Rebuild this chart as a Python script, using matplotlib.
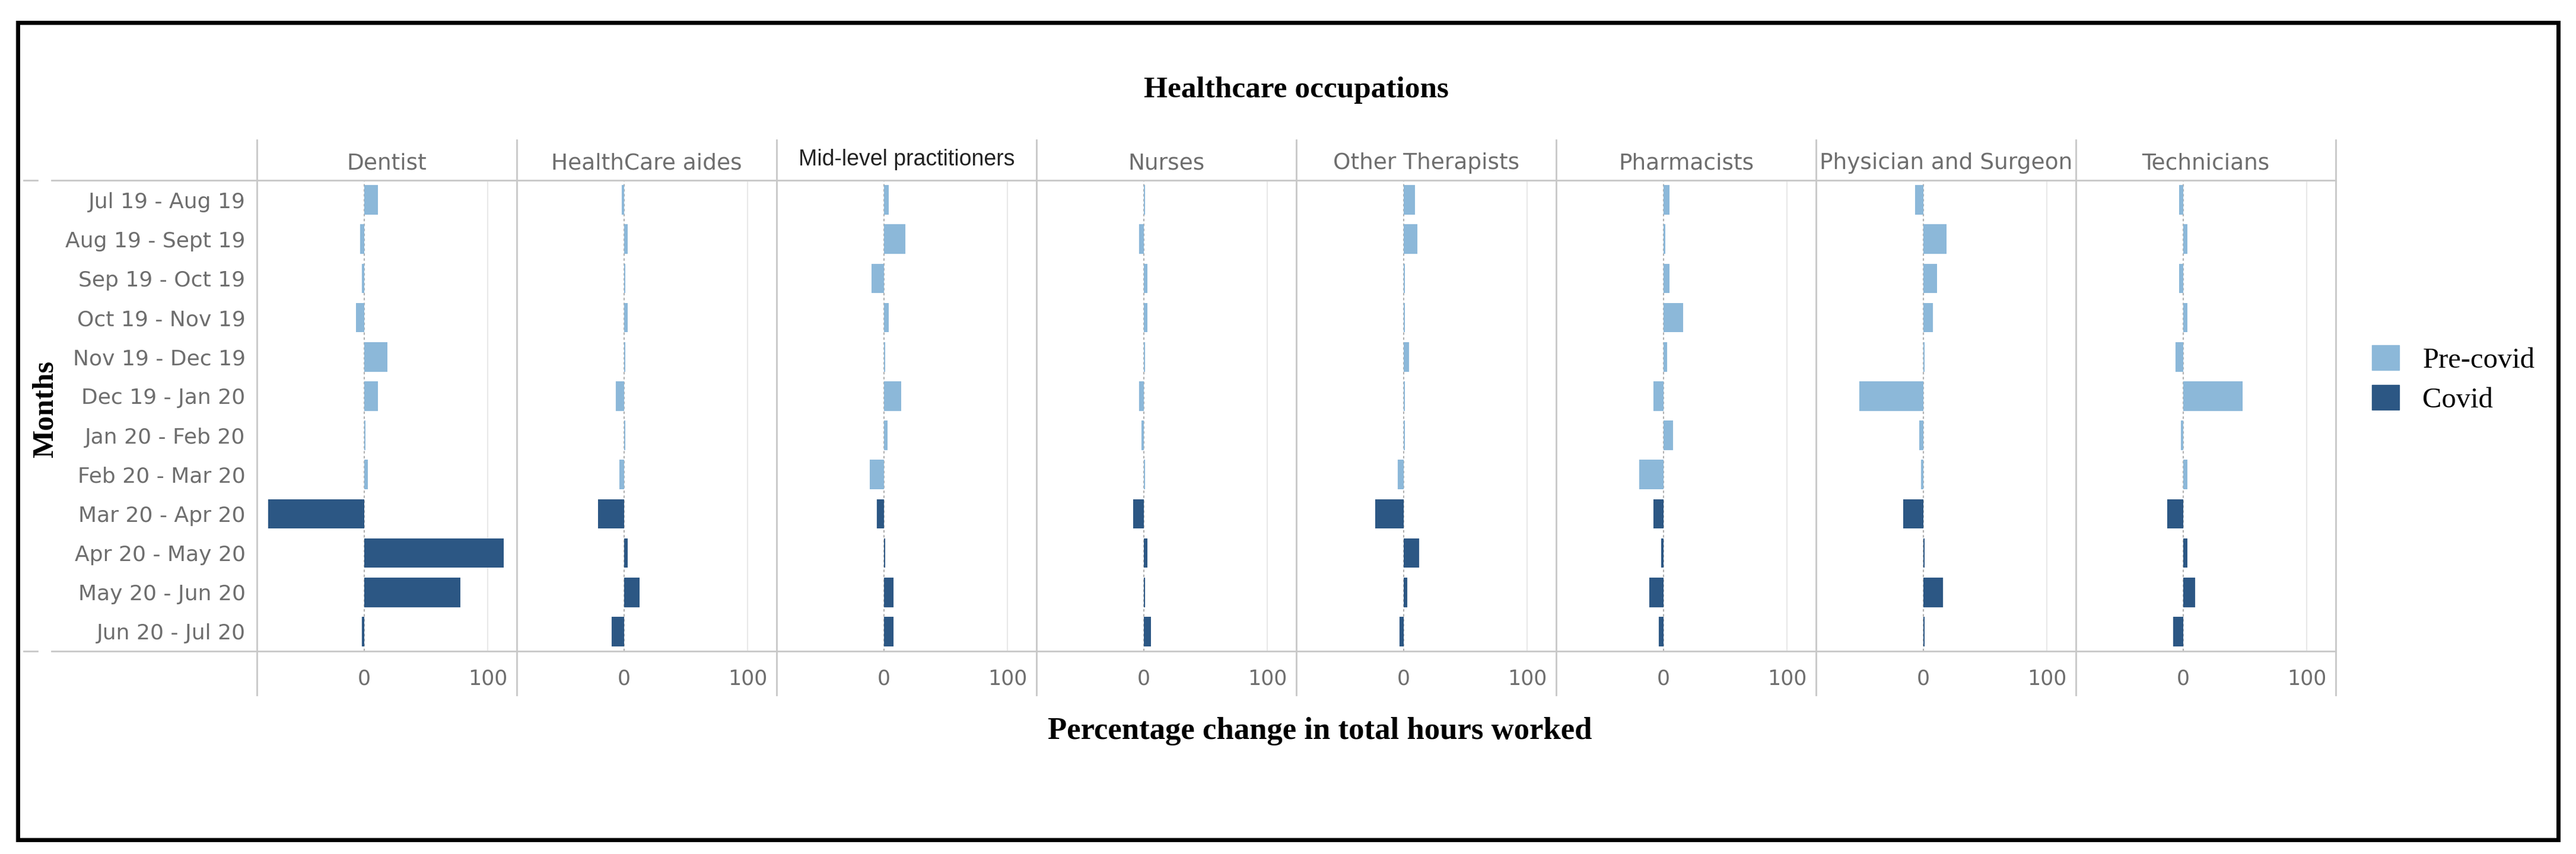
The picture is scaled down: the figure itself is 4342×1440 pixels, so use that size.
import matplotlib
matplotlib.use('Agg')
import matplotlib.pyplot as plt
from matplotlib.patches import Rectangle, Patch
from matplotlib.lines import Line2D

# ---------------- data
months = ['Jul 19 - Aug 19', 'Aug 19 - Sept 19', 'Sep 19 - Oct 19', 'Oct 19 - Nov 19',
          'Nov 19 - Dec 19', 'Dec 19 - Jan 20', 'Jan 20 - Feb 20', 'Feb 20 - Mar 20',
          'Mar 20 - Apr 20', 'Apr 20 - May 20', 'May 20 - Jun 20', 'Jun 20 - Jul 20']
periods = ['Pre-covid', 'Pre-covid', 'Pre-covid', 'Pre-covid', 'Pre-covid', 'Pre-covid',
           'Pre-covid', 'Pre-covid', 'Covid', 'Covid', 'Covid', 'Covid']
occupations = ['Dentist', 'HealthCare aides', 'Mid-level practitioners', 'Nurses',
               'Other Therapists', 'Pharmacists', 'Physician and Surgeon', 'Technicians']

dentist = [11, -3.3, -1.7, -6.6, 19, 11, 1, 2.8, -78, 113, 78, -1.7]
healthcare_aides = [-2, 2.8, 1, 2.8, 1, -6.7, 1, -3.6, -21, 2.8, 12.5, -10]
mid_level = [4, 17.5, -10, 4, 1, 14, 2.8, -11.7, -5.6, 1, 7.5, 7.5]
nurses = [0.8, -3.6, 2.8, 2.8, 0.8, -3.6, -2, 0.8, -8.6, 2.8, 1, 6]
other_therapists = [9, 11, 1, 1, 4.5, 1, 1, -5, -23, 12.5, 3, -3.3]
pharmacists = [4.7, 1.4, 4.7, 16, 2.8, -8, 7.5, -19.5, -8, -2, -11.4, -3.6]
physician = [-6.8, 18.8, 10.9, 7.6, 1.2, -51.8, -3.2, -1.8, -16.2, 1.2, 15.9, 1.2]
technicians = [-3.2, 3.2, -3.2, 3.2, -6.4, 48, -1.8, 3.2, -12.9, 3.2, 9.6, -8.2]

series = [dentist, healthcare_aides, mid_level, nurses, other_therapists,
          pharmacists, physician, technicians]

LIGHT = '#8cb8d9'
DARK = '#2c5784'
GRAYTXT = '#6e6e6e'
LINE = '#c8c8c8'
SERIF = 'Liberation Serif'

W, H = 4342, 1440
fig = plt.figure(figsize=(W / 100, H / 100), dpi=100)


def fx(px):
    return px / W


def fy(py):
    return 1 - py / H


p_left, p_w = 433, 438
p_top, p_bot = 304, 1098

for i, occ in enumerate(occupations):
    ax = fig.add_axes([fx(p_left + i * p_w), fy(p_bot), fx(p_w), (p_bot - p_top) / H])
    ax.set_facecolor('none')
    cols = [LIGHT if p == 'Pre-covid' else DARK for p in periods]
    ax.barh(range(len(months)), series[i], height=0.75, color=cols, zorder=2)
    ax.axvline(0, color='#b0b0b0', ls=(0, (2, 2)), lw=1.5, zorder=1)
    ax.axvline(100, color='#e8e8e8', lw=1.5, zorder=0)
    ax.set_xlim(-87, 123.6)
    ax.set_ylim(len(months) - 0.5, -0.5)
    for s in ax.spines.values():
        s.set_visible(False)
    ax.set_xticks([0, 100])
    ax.set_xticklabels(['0', '100'])
    ax.tick_params(axis='x', length=0, pad=21, labelsize=25, labelcolor=GRAYTXT)
    if i == 0:
        ax.set_yticks(range(len(months)))
        ax.set_yticklabels(months)
        ax.tick_params(axis='y', length=0, pad=14, labelsize=26, labelcolor=GRAYTXT)
    else:
        ax.set_yticks([])
    # facet header
    cx = fx(p_left + i * p_w + p_w / 2)
    if occ == 'Mid-level practitioners':
        fig.text(cx, fy(269), occ, ha='center', va='center', fontsize=27,
                 color='#222222', family=['Liberation Sans Narrow', 'Liberation Sans'])
    else:
        fig.text(cx, fy(275), occ, ha='center', va='center', fontsize=27, color=GRAYTXT)

# grid frame lines
for k in range(len(occupations) + 1):
    x = fx(p_left + k * p_w)
    fig.add_artist(Line2D([x, x], [fy(236), fy(1172)], color=LINE, lw=2))
for y in (p_top, p_bot):
    fig.add_artist(Line2D([fx(87), fx(p_left + 8 * p_w)], [fy(y), fy(y)], color=LINE, lw=2))
    fig.add_artist(Line2D([fx(40), fx(63)], [fy(y), fy(y)], color=LINE, lw=2))

# titles
fig.text(fx(2185), fy(152), 'Healthcare occupations', ha='center', va='center',
         fontsize=37, fontweight='bold', family=SERIF)
fig.text(fx(2225), fy(1233), 'Percentage change in total hours worked', ha='center',
         va='center', fontsize=38, fontweight='bold', family=SERIF)
fig.text(fx(77), fy(690), 'Months', ha='center', va='center', rotation=90,
         fontsize=36, fontweight='bold', family=SERIF)

# legend
handles = [Patch(color=LIGHT, label='Pre-covid'), Patch(color=DARK, label='Covid')]
fig.legend(handles=handles, loc='upper left', bbox_to_anchor=(fx(3998), fy(582)),
           frameon=False, prop={'family': SERIF, 'size': 35},
           handlelength=0.95, handleheight=0.95, handletextpad=0.8,
           labelspacing=0.4, borderaxespad=0, borderpad=0)

# outer border
fig.add_artist(Rectangle((fx(30), fy(1416)), fx(4282), (1416 - 38) / H, fill=False,
                         lw=5, edgecolor='black', transform=fig.transFigure))

fig.savefig('out.png', dpi=100)
